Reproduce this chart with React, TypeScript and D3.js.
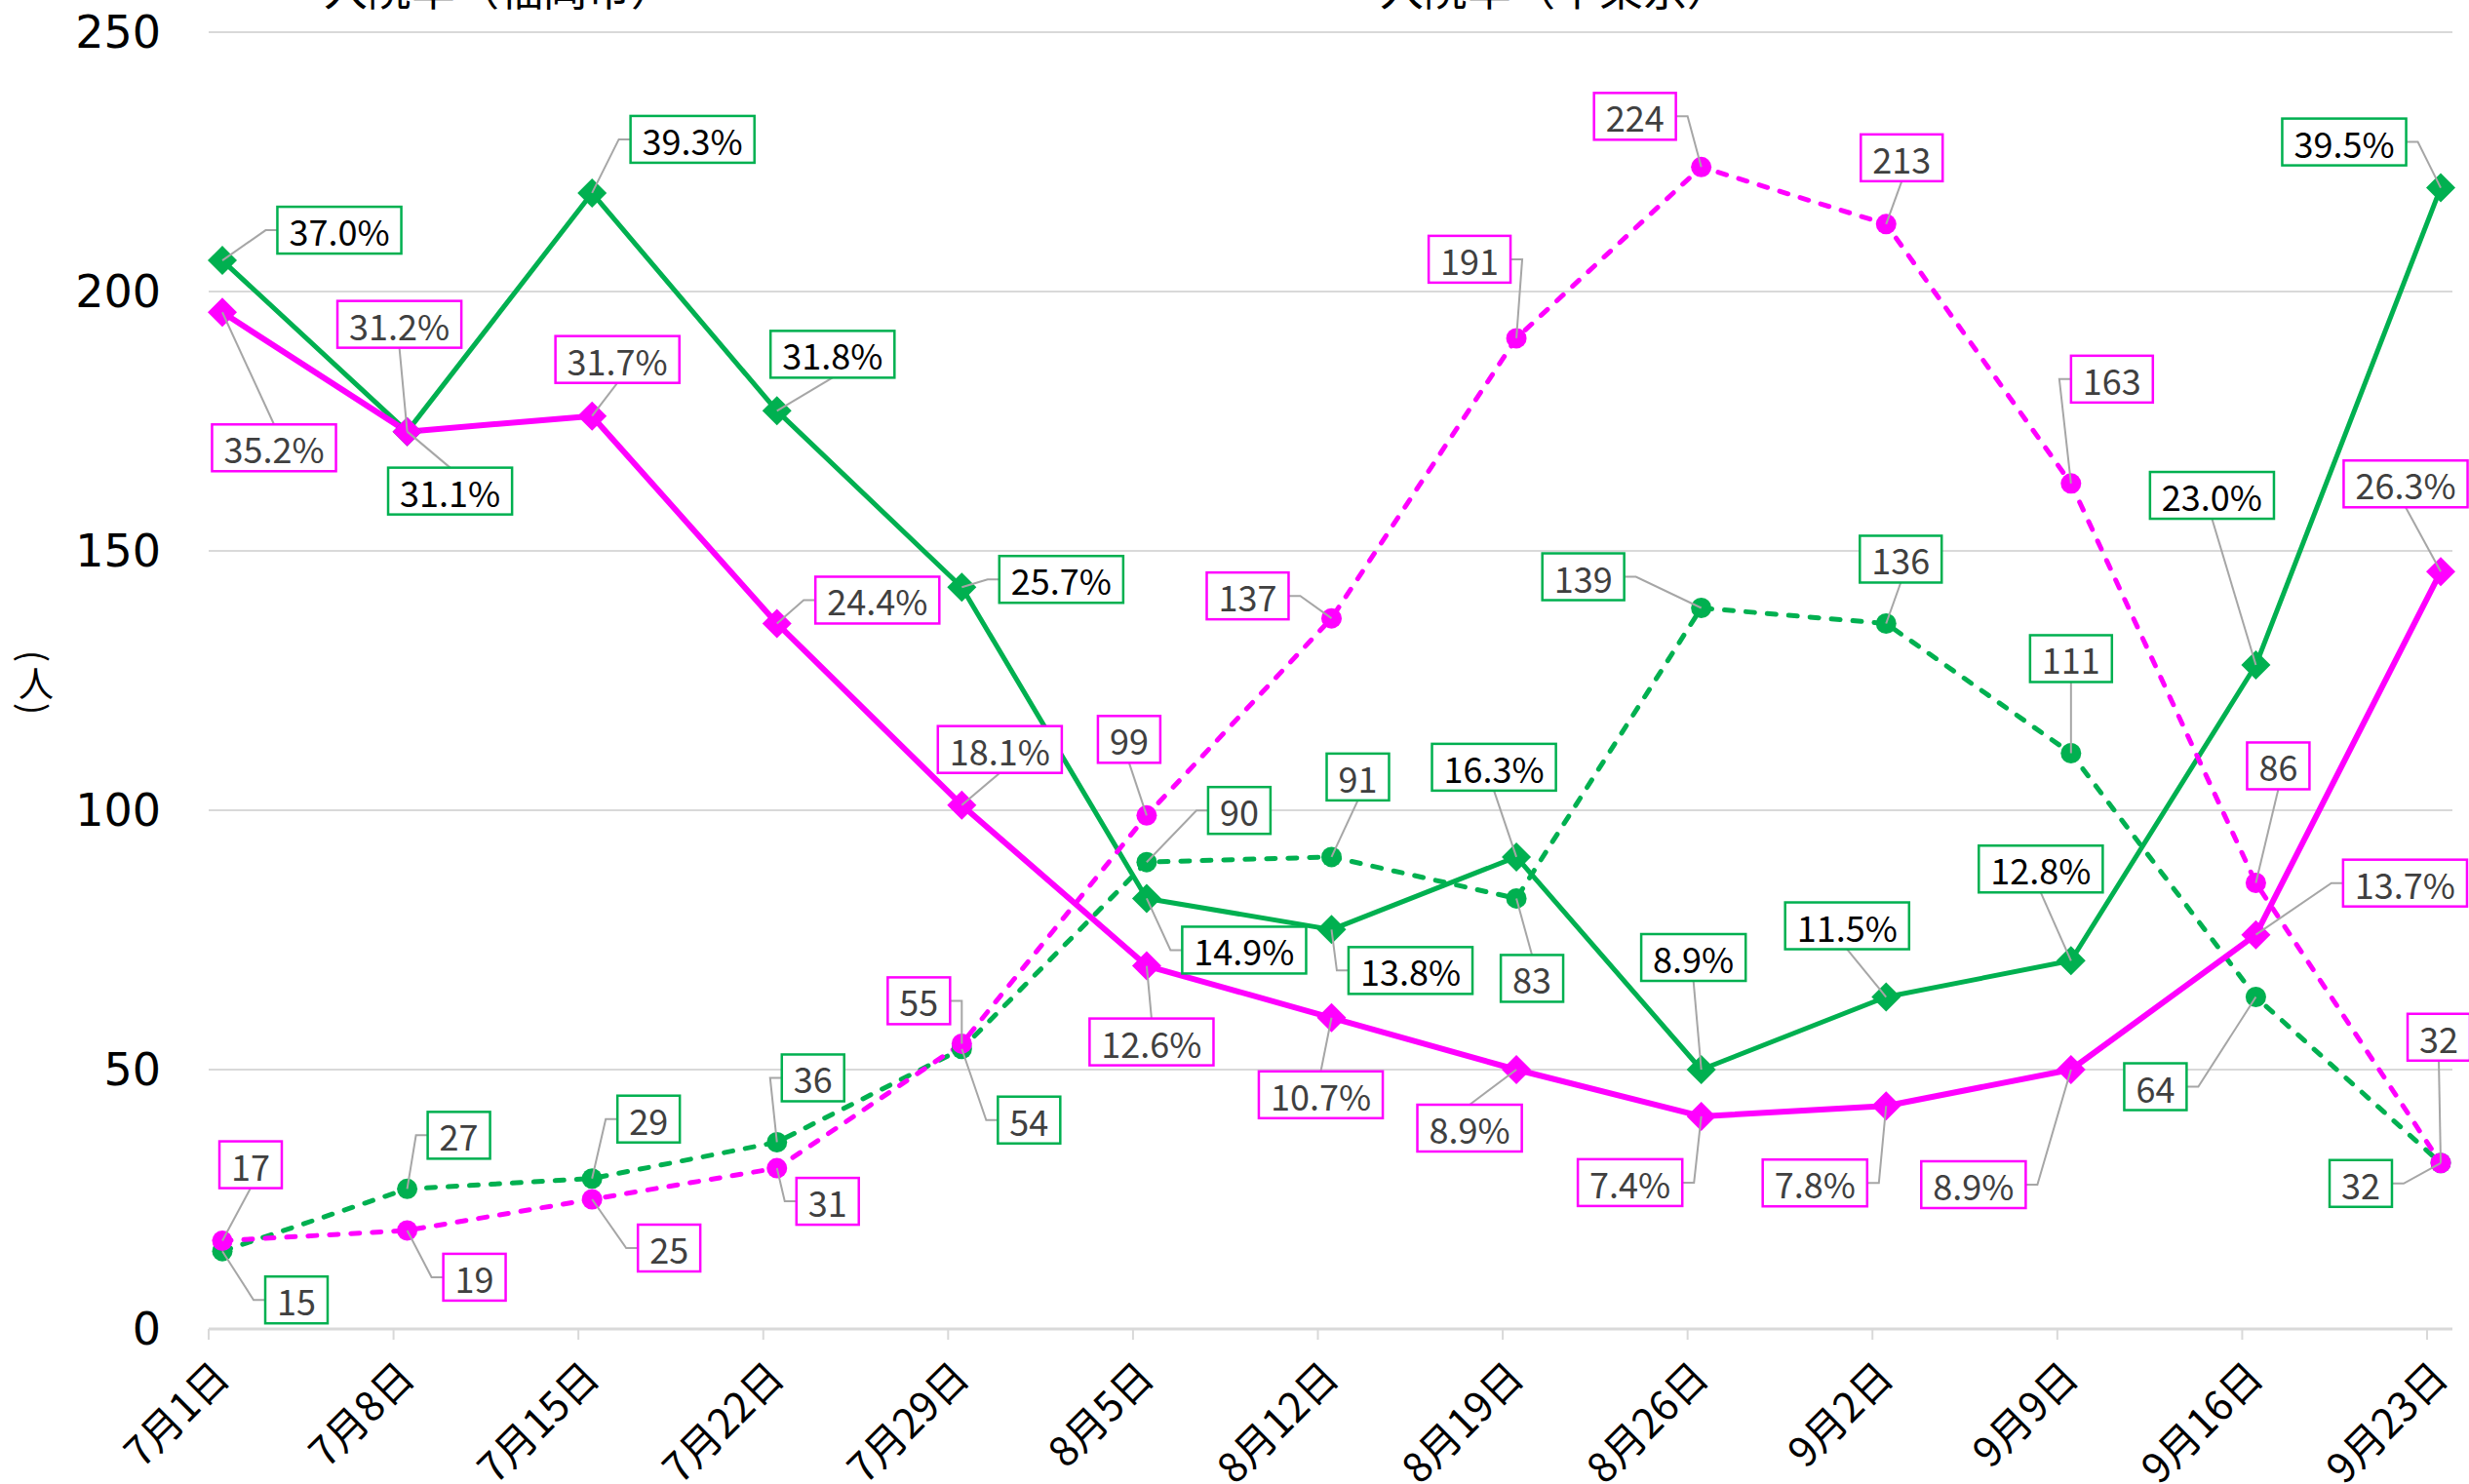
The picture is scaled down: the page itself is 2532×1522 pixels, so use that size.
import * as d3 from "d3";

const DATES = [
  "7月1日", "7月8日", "7月15日", "7月22日", "7月29日", "8月5日", "8月12日",
  "8月19日", "8月26日", "9月2日", "9月9日", "9月16日", "9月23日",
];

// solid lines: value drawn + occupancy label
const GREEN_BEDS = [206, 173, 219, 177, 143, 83, 77, 91, 50, 64, 71, 128, 220];
const GREEN_RATE = ["37.0%", "31.1%", "39.3%", "31.8%", "25.7%", "14.9%", "13.8%", "16.3%", "8.9%", "11.5%", "12.8%", "23.0%", "39.5%"];
const MAGENTA_BEDS = [196, 173, 176, 136, 101, 70, 60, 50, 41, 43, 50, 76, 146];
const MAGENTA_RATE = ["35.2%", "31.2%", "31.7%", "24.4%", "18.1%", "12.6%", "10.7%", "8.9%", "7.4%", "7.8%", "8.9%", "13.7%", "26.3%"];

// dashed lines: counts
const GREEN_COUNT = [15, 27, 29, 36, 54, 90, 91, 83, 139, 136, 111, 64, 32];
const MAGENTA_COUNT = [17, 19, 25, 31, 55, 99, 137, 191, 224, 213, 163, 86, 32];

const Y_TICKS = [0, 50, 100, 150, 200, 250];
const TITLES = ["入院率（福岡市）", "入院率（中東京）"];

// label box offsets from their point (layout only)
const GREEN_RATE_POS = [[120, -31], [44, 61], [103, -55], [57, -58], [102, -8], [100, 53], [81, 42], [-23, -92], [-8, -115], [-40, -73], [-31, -94], [-45, -174], [-99, -47]];
const MAGENTA_RATE_POS = [[53, 139], [-8, -110], [26, -58], [103, -24], [39, -57], [5, 78], [-11, 79], [-48, 60], [-73, 68], [-73, 79], [-100, 118], [153, -53], [-36, -90]];
const GREEN_COUNT_POS = [[76, 50], [53, -55], [58, -61], [37, -66], [69, 73], [95, -53], [27, -82], [16, 82], [-121, -32], [15, -66], [0, -97], [-103, 92], [-82, 21]];
const MAGENTA_COUNT_POS = [[29, -78], [69, 48], [79, 50], [52, 34], [-44, -44], [-18, -78], [-86, -23], [-48, -81], [-68, -52], [16, -68], [42, -107], [23, -120], [-2, -129]];

const W = 2532;
const H = 1522;
const LEFT = 214;
const RIGHT = 2515;
const LAST_TICK = 2489;
const TOP = 33;
const BOTTOM = 1363;
const POINT_SHIFT = 14;

const GREEN = "#00B050";
const MAGENTA = "#FF00FF";
const GRID = "#D9D9D9";
const LEADER = "#A6A6A6";
const FONT = '"Noto Sans CJK JP", "Noto Sans", sans-serif';
const NUM_FONT = '"DejaVu Sans", sans-serif';
const LABEL_SIZE = 36;
const BOX_H = 48;
const PAD = 12;

const ctx = document.createElement("canvas").getContext("2d");
function textWidth(s: string, size: number) {
  if (!ctx) return s.length * size * 0.56;
  ctx.font = `${size}px "Noto Sans CJK JP"`;
  return ctx.measureText(s).width;
}

const SERIES = [
  { values: GREEN_BEDS, labels: GREEN_RATE, pos: GREEN_RATE_POS, color: GREEN, dashed: false, marker: "diamond", width: 5, text: "#000000" },
  { values: GREEN_COUNT, labels: GREEN_COUNT.map(String), pos: GREEN_COUNT_POS, color: GREEN, dashed: true, marker: "circle", width: 5, text: "#404040" },
  { values: MAGENTA_BEDS, labels: MAGENTA_RATE, pos: MAGENTA_RATE_POS, color: MAGENTA, dashed: false, marker: "diamond", width: 6, text: "#404040" },
  { values: MAGENTA_COUNT, labels: MAGENTA_COUNT.map(String), pos: MAGENTA_COUNT_POS, color: MAGENTA, dashed: true, marker: "circle", width: 5, text: "#404040" },
];

export default function App() {
  const x = d3.scalePoint<string>().domain(DATES).range([LEFT, LAST_TICK]);
  const y = d3.scaleLinear().domain([0, 250]).range([BOTTOM, TOP]);
  const px = (d: string) => (x(d) ?? 0) + POINT_SHIFT;

  const line = d3
    .line<number>()
    .x((_, i) => px(DATES[i]))
    .y((v) => y(v));

  const diamond = (cx: number, cy: number, r: number) =>
    `M${cx},${cy - r}L${cx + r},${cy}L${cx},${cy + r}L${cx - r},${cy}Z`;

  // label boxes + leaders
  const labels = SERIES.flatMap((s, si) =>
    s.values.map((v, i) => {
      const ptx = px(DATES[i]);
      const pty = y(v);
      const w = textWidth(s.labels[i], LABEL_SIZE) + PAD * 2;
      const cx = ptx + s.pos[i][0];
      const cy = pty + s.pos[i][1];
      const l = cx - w / 2;
      const r = cx + w / 2;
      let leader: [number, number][];
      if (ptx >= l && ptx <= r) {
        leader = [[ptx, pty], [cx, cy > pty ? cy - BOX_H / 2 : cy + BOX_H / 2]];
      } else if (ptx < l) {
        leader = [[ptx, pty], [l - 12, cy], [l, cy]];
      } else {
        leader = [[ptx, pty], [r + 12, cy], [r, cy]];
      }
      return { key: `${si}-${i}`, cx, cy, w, text: s.labels[i], color: s.color, textColor: s.text, leader };
    })
  );

  return (
    <div style={{ position: "absolute", left: 0, top: 0 }}>
      <svg width={W} height={H} style={{ display: "block", background: "#fff" }} fontFamily={FONT}>
        {/* titles (partly cut off at the top) */}
        {TITLES.map((t, i) => (
          <text key={t} x={i === 0 ? 512 : 1595} y={6} fontSize={45} textAnchor="middle" fill="#000">
            {t}
          </text>
        ))}

        {/* grid */}
        {Y_TICKS.map((t) => (
          <g key={t}>
            <line x1={LEFT} x2={RIGHT} y1={y(t)} y2={y(t)} stroke={GRID} strokeWidth={t === 0 ? 3 : 2} />
            <text x={165} y={y(t)} fontSize={46} fontFamily={NUM_FONT} textAnchor="end" dominantBaseline="central" fill="#000">
              {t}
            </text>
          </g>
        ))}

        {/* x axis ticks and labels */}
        {DATES.map((d) => (
          <g key={d}>
            <line x1={x(d)} x2={x(d)} y1={BOTTOM} y2={BOTTOM + 11} stroke={GRID} strokeWidth={2} />
            <text
              transform={`translate(${(x(d) ?? 0) + 24},${BOTTOM + 52}) rotate(-45)`}
              fontSize={42}
              textAnchor="end"
              fill="#000"
            >
              {d}
            </text>
          </g>
        ))}

        {/* y axis unit */}
        <g fill="#000" fontSize={36}>
          <text transform={`translate(37,673) rotate(90)`} textAnchor="middle" dominantBaseline="central">(</text>
          <text x={37} y={699} textAnchor="middle" dominantBaseline="central">人</text>
          <text transform={`translate(37,727) rotate(90)`} textAnchor="middle" dominantBaseline="central">)</text>
        </g>

        {/* lines */}
        {SERIES.map((s, si) => (
          <path
            key={`l${si}`}
            d={line(s.values) ?? ""}
            fill="none"
            stroke={s.color}
            strokeWidth={s.width}
            strokeDasharray={s.dashed ? "9 13" : undefined}
            strokeLinecap={s.dashed ? "round" : "butt"}
            strokeLinejoin="round"
          />
        ))}

        {/* markers */}
        {SERIES.map((s, si) => (
          <g key={`m${si}`} fill={s.color}>
            {s.values.map((v, i) =>
              s.marker === "circle" ? (
                <circle key={i} cx={px(DATES[i])} cy={y(v)} r={10.5} />
              ) : (
                <path key={i} d={diamond(px(DATES[i]), y(v), 15)} />
              )
            )}
          </g>
        ))}

        {/* leader lines */}
        {labels.map((lb) => (
          <polyline
            key={`ld${lb.key}`}
            points={lb.leader.map((p) => p.join(",")).join(" ")}
            fill="none"
            stroke={LEADER}
            strokeWidth={2}
          />
        ))}

        {/* data labels */}
        {labels.map((lb) => (
          <g key={`lb${lb.key}`}>
            <rect
              x={lb.cx - lb.w / 2}
              y={lb.cy - BOX_H / 2}
              width={lb.w}
              height={BOX_H}
              fill="#fff"
              stroke={lb.color}
              strokeWidth={2.5}
            />
            <text x={lb.cx} y={lb.cy} fontSize={LABEL_SIZE} textAnchor="middle" dominantBaseline="central" fill={lb.textColor}>
              {lb.text}
            </text>
          </g>
        ))}
      </svg>
    </div>
  );
}
